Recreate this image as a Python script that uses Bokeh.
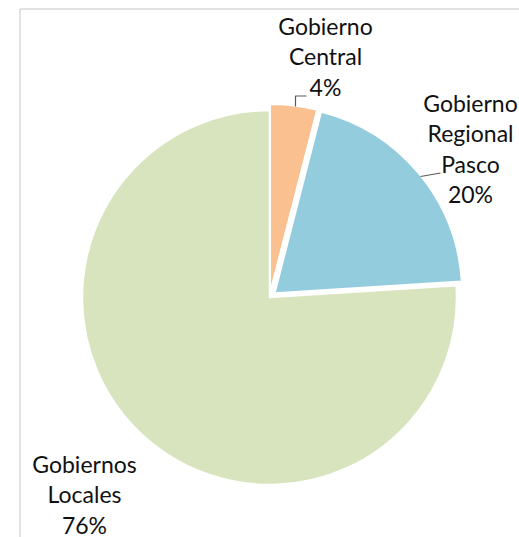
import math
from bokeh.plotting import figure
from bokeh.models import Range1d
from bokeh.core.properties import value
from bokeh.embed import file_html
from bokeh.resources import INLINE

# ---- data ----
categories = ["Gobierno\nCentral", "Gobierno\nRegional\nPasco", "Gobiernos\nLocales"]
shares = [4, 20, 76]

# ---- styles ----
colors = ["#FAC090", "#93CDDD", "#D7E4BD"]
explode = [6.3, 7.0, 0.0]          # px, along each slice's mid-angle
label_anchor = [(325, 512), (470, 435), (84, 74)]   # first-line baseline (data coords)
line_step = 30.5
FONT = "Lato"

W, H = 519, 537
p = figure(width=W, height=H, x_range=Range1d(0, 519), y_range=Range1d(0, 537),
           x_axis_type=None, y_axis_type=None, toolbar_location=None,
           output_backend="svg", min_border=0)
p.grid.visible = False
p.outline_line_color = None
p.background_fill_color = "white"
p.border_fill_color = "white"

# chart-area border (top and left visible)
p.line([19.5, 19.5, 530], [0, 528.5, 528.5], line_color="#C4C4C4", line_width=1)

cx, cy, r = 269, 240, 187
total = sum(shares)
cum = 0.0
xs, ys, sa, ea = [], [], [], []
for v, e in zip(shares, explode):
    f0 = cum / total
    f1 = (cum + v) / total
    mid = (f0 + f1) / 2 * 2 * math.pi   # clockwise from top
    xs.append(cx + e * math.sin(mid))
    ys.append(cy + e * math.cos(mid))
    sa.append(math.pi / 2 - f0 * 2 * math.pi)
    ea.append(math.pi / 2 - f1 * 2 * math.pi)
    cum += v

p.wedge(x=xs, y=ys, radius=r, start_angle=sa, end_angle=ea, direction="clock",
        fill_color=colors, line_color="white", line_width=1.5)

# leader lines
p.line([295, 295, 306], [537 - 106, 537 - 95.5, 537 - 95.5], line_color="#595959", line_width=1.2)
p.line([420, 440], [537 - 176, 537 - 172.5], line_color="#595959", line_width=1.2)

# labels
tx, ty, tt = [], [], []
for cat, v, (ax, ay) in zip(categories, shares, label_anchor):
    lines = cat.split("\n") + [f"{v}%"]
    for i, ln in enumerate(lines):
        tx.append(ax)
        ty.append(ay - i * line_step)
        tt.append(ln)
p.text(x=tx, y=ty, text=tt, text_align="center", text_baseline="alphabetic",
       text_font=value(FONT), text_font_size="23px", text_color="#111111")

open("out.html", "w").write(file_html(p, INLINE))
